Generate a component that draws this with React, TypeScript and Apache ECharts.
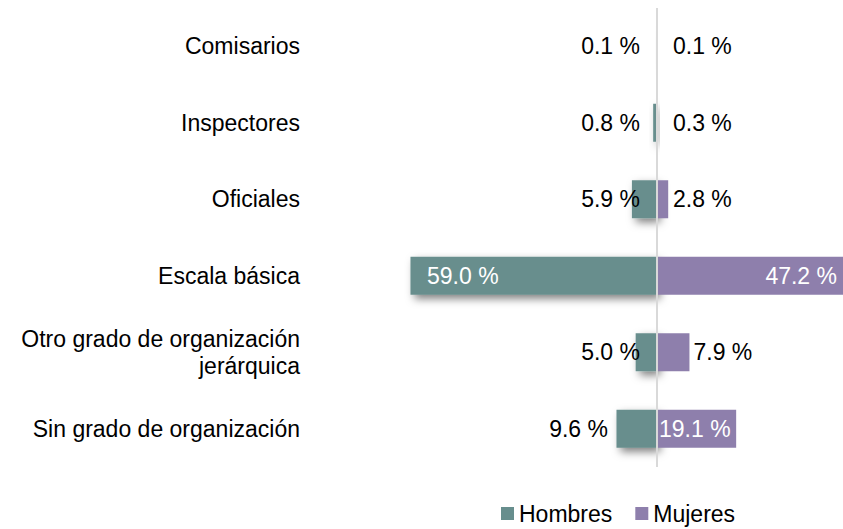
import React, { useEffect, useRef } from "react";
import * as echarts from "echarts";

const categories = [
  "Comisarios",
  "Inspectores",
  "Oficiales",
  "Escala básica",
  "Otro grado de organización\njerárquica",
  "Sin grado de organización",
];
const hombres = [0.1, 0.8, 5.9, 59.0, 5.0, 9.6];
const mujeres = [0.1, 0.3, 2.8, 47.2, 7.9, 19.1];
const seriesNames = ["Hombres", "Mujeres"];

const FONT = "'Liberation Sans', Arial, sans-serif";
const FS = 23;
const TEAL = "#678e8d";
const PURPLE = "#8e7fac";

// label placement styles (per bar)
const hLabelStyle = [
  { position: "insideRight", distance: 16.5, color: "#000" },
  { position: "insideRight", distance: 16.5, color: "#000" },
  { position: "insideRight", distance: 16.5, color: "#000" },
  { position: "insideLeft", distance: 16.5, color: "#fff" },
  { position: "insideRight", distance: 16.5, color: "#000" },
  { position: "left", distance: 8.5, color: "#000" },
];
const mLabelStyle = [
  { position: "insideLeft", distance: 16.5, color: "#000" },
  { position: "insideLeft", distance: 16.5, color: "#000" },
  { position: "insideLeft", distance: 16.5, color: "#000" },
  { position: "insideRight", distance: 6, color: "#fff" },
  { position: "right", distance: 4, color: "#000" },
  { position: "insideLeft", distance: 2.5, color: "#fff" },
];

const fmt = (v: number) => Math.abs(v).toFixed(1) + " %";

export default function App() {
  const ref = useRef<HTMLDivElement>(null);
  useEffect(() => {
    if (!ref.current) return;
    const chart = echarts.init(ref.current, null, { renderer: "svg" });
    const labelBase = { show: true, fontSize: FS, fontFamily: FONT, formatter: (p: any) => fmt(p.value) };
    chart.setOption({
      animation: false,
      backgroundColor: "#fff",
      textStyle: { fontFamily: FONT },
      grid: { left: 406.3, right: 0, top: 8, height: 459, containLabel: false },
      legend: {
        data: seriesNames,
        left: 501,
        top: 502,
        padding: 0,
        icon: "rect",
        itemWidth: 13,
        itemHeight: 13,
        itemGap: 23,
        textStyle: { fontSize: FS, fontFamily: FONT, color: "#000" },
        selectedMode: false,
      },
      xAxis: { type: "value", min: -60, max: 44.72, show: false },
      yAxis: {
        type: "category",
        data: categories,
        inverse: true,
        axisLine: { show: false, onZero: false },
        axisTick: { show: false },
        splitLine: { show: false },
        axisLabel: {
          fontSize: FS,
          fontFamily: FONT,
          color: "#000",
          margin: 106.3,
          align: "right",
          lineHeight: 27,
        },
      },
      series: [
        {
          name: seriesNames[0],
          type: "bar",
          barWidth: 38,
          barGap: "-100%",
          itemStyle: {
            color: TEAL,
            shadowColor: "rgba(0,0,0,0.5)",
            shadowBlur: 8,
            shadowOffsetX: 4,
            shadowOffsetY: 4,
          },
          data: hombres.map((v, i) => ({
            value: -v,
            label: { ...labelBase, ...hLabelStyle[i] },
          })),
        },
        {
          name: seriesNames[1],
          type: "bar",
          barWidth: 38,
          barGap: "-100%",
          itemStyle: { color: PURPLE },
          data: mujeres.map((v, i) => ({
            value: v,
            label: { ...labelBase, ...mLabelStyle[i] },
          })),
          markLine: {
            silent: true,
            symbol: "none",
            label: { show: false },
            lineStyle: { color: "#d9d9d9", width: 2, type: "solid" },
            data: [{ xAxis: 0 }],
          },
        },
      ],
    });
    return () => chart.dispose();
  }, []);
  return (
    <div
      ref={ref}
      style={{ position: "fixed", left: 0, top: 0, width: 843, height: 529, background: "#fff" }}
    />
  );
}
